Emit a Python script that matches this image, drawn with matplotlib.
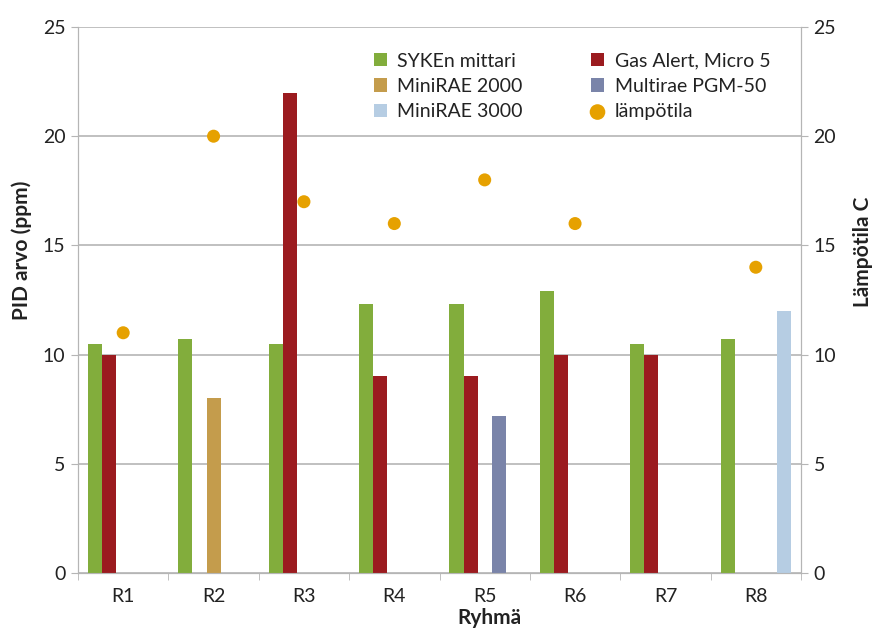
# PID readings per group with temperature on a second axis
import matplotlib.pyplot as plt
import numpy as np

plt.rcParams["font.family"] = ["Lato", "DejaVu Sans"]

groups = ["R1", "R2", "R3", "R4", "R5", "R6", "R7", "R8"]
nan = np.nan
syke = [10.5, 10.7, 10.5, 12.3, 12.3, 12.9, 10.5, 10.7]
gas_alert = [10, nan, 22, 9, 9, 10, 10, nan]
minirae2000 = [nan, 8, nan, nan, nan, nan, nan, nan]
multirae = [nan, nan, nan, nan, 7.2, nan, nan, nan]
minirae3000 = [nan, nan, nan, nan, nan, nan, nan, 12]
temperature = [11, 20, 17, 16, 18, 16, nan, 14]

series = [
    ("SYKEn mittari", syke, "#82ad3c"),
    ("Gas Alert, Micro 5", gas_alert, "#9b1b1f"),
    ("MiniRAE 2000", minirae2000, "#c49c4c"),
    ("Multirae PGM-50", multirae, "#7a84a9"),
    ("MiniRAE 3000", minirae3000, "#b6cde3"),
]

grid_c = "#b5b5b5"
text_c = "#222222"

fig = plt.figure(figsize=(8.75, 6.28), dpi=100)
ax = fig.add_axes([78 / 875, 1 - 573 / 628, 723 / 875, 546 / 628])
ax2 = ax.twinx()

x = np.arange(len(groups))
w = 0.156
handles = {}
for i, (name, vals, color) in enumerate(series):
    b = ax.bar(x + (i - 2) * w, vals, w, color=color, label=name, zorder=3)
    handles[name] = b

pts = ax2.scatter(x, temperature, s=88, color="#e6a100", zorder=4,
                  label="lämpötila", edgecolors="none")
handles["lämpötila"] = pts

for a in (ax, ax2):
    a.set_ylim(0, 25)
    a.set_yticks(range(0, 26, 5))
    a.tick_params(axis="y", length=5, color=grid_c, labelsize=14,
                  labelcolor=text_c, pad=4)
    for s in a.spines.values():
        s.set_color(grid_c)
    a.spines["top"].set_visible(False)

ax.yaxis.grid(True, color=grid_c, linewidth=1.2, zorder=0)
ax.set_axisbelow(True)
ax.set_xlim(-0.5, len(groups) - 0.5)
ax.set_xticks(x)
ax.set_xticklabels(groups)
ax.set_xticks(np.arange(-0.5, len(groups)), minor=True)
ax.tick_params(axis="x", which="major", length=0, labelsize=14,
               labelcolor=text_c, pad=11)
ax.tick_params(axis="x", which="minor", length=5, color=grid_c)

order = ["SYKEn mittari", "MiniRAE 2000", "MiniRAE 3000",
         "Gas Alert, Micro 5", "Multirae PGM-50", "lämpötila"]
leg = ax.legend([handles[k] for k in order], order, ncol=2, frameon=False,
                loc="upper left", bbox_to_anchor=(0.409, 0.953),
                borderpad=0, borderaxespad=0, markerscale=1.2,
                fontsize=14, handlelength=0.67, handleheight=0.67,
                handletextpad=0.55, columnspacing=3.5, labelspacing=0.42,
                labelcolor=text_c)

fig.text(22 / 875, 1 - 250 / 628, "PID arvo (ppm)", rotation=90,
         ha="center", va="center", fontsize=15, fontweight="bold",
         color=text_c)
fig.text(863 / 875, 1 - 252 / 628, "Lämpötila C", rotation=90,
         ha="center", va="center", fontsize=15, fontweight="bold",
         color=text_c)
fig.text(489 / 875, 1 - 618 / 628, "Ryhmä", ha="center", va="center",
         fontsize=15, fontweight="bold", color=text_c)

fig.savefig("out.png", dpi=100)
